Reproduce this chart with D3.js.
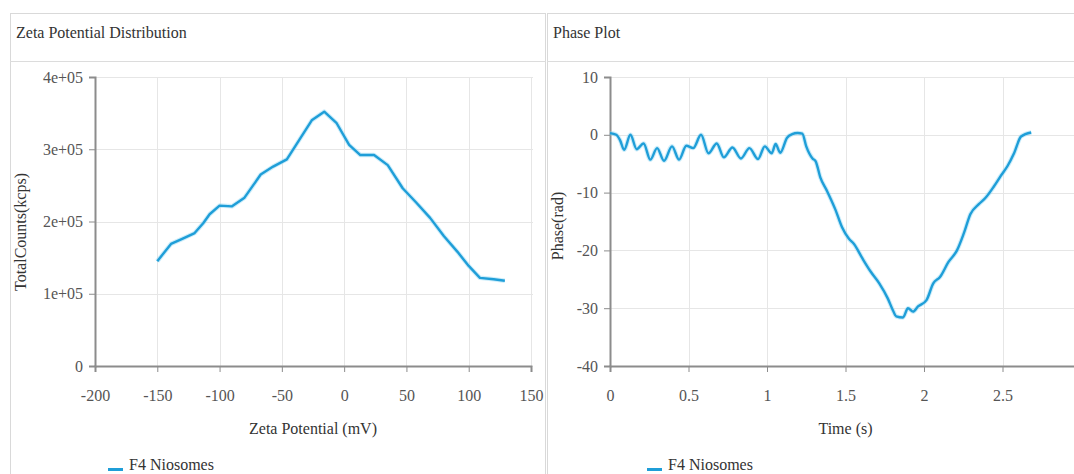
<!DOCTYPE html>
<html>
<head>
<meta charset="utf-8">
<script src="https://cdn.jsdelivr.net/npm/d3@7"></script>
<style>
  html, body { margin: 0; padding: 0; background: #fff; overflow: hidden; }
  svg { display: block; font-family: "Liberation Serif", "Times New Roman", serif; }
</style>
</head>
<body>
<svg id="chart" width="1074" height="474"></svg>
<script>
// Zeta potential distribution (mV vs total counts)
const zetaMv = [-150, -139, -130, -120, -113, -108, -100, -90, -80, -67, -57, -46, -36, -26, -16, -6, 4, 13, 24, 35, 47, 58, 69, 80, 91, 100, 109, 120, 129];
const totalCounts = [145000, 169000, 176000, 184000, 198000, 210000, 222000, 221000, 233000, 265000, 276000, 286000, 313000, 340000, 352000, 336000, 306000, 292000, 292000, 278000, 246000, 226000, 205000, 180000, 158000, 138500, 122000, 120000, 118000];

// Phase plot (time vs phase)
const phaseTime = [0, 0.04, 0.065, 0.09, 0.13, 0.17, 0.214, 0.257, 0.3, 0.344, 0.395, 0.44, 0.486, 0.53, 0.58, 0.627, 0.68, 0.725, 0.78, 0.834, 0.888, 0.943, 0.986, 1.03, 1.055, 1.084, 1.128, 1.16, 1.195, 1.225, 1.25, 1.29, 1.31, 1.34, 1.382, 1.435, 1.478, 1.522, 1.554, 1.608, 1.661, 1.715, 1.769, 1.801, 1.823, 1.866, 1.898, 1.93, 1.962, 2.016, 2.059, 2.102, 2.156, 2.21, 2.253, 2.296, 2.349, 2.392, 2.446, 2.489, 2.532, 2.575, 2.618, 2.683];
const phaseRad = [0.3, 0, -1.0, -2.6, 0, -2.5, -1.5, -4.3, -2.3, -4.5, -2.0, -4.3, -1.9, -2.3, 0, -3.2, -1.5, -3.9, -2.2, -4.1, -2.3, -4.2, -2.0, -3.2, -1.6, -3.1, -0.5, 0.1, 0.3, 0.2, -2.0, -4.1, -4.6, -7.4, -9.7, -12.9, -16, -18, -18.9, -21.4, -23.7, -25.7, -28.3, -30.3, -31.4, -31.6, -30, -30.6, -29.7, -28.6, -25.7, -24.6, -22, -20, -17.1, -13.7, -12, -10.9, -8.9, -7.1, -5.4, -3.1, -0.3, 0.4];

// Axis ticks and labels
const zetaTicks = [-200, -150, -100, -50, 0, 50, 100, 150];
const countTicks = [0, 100000, 200000, 300000, 400000];
const countTickLabels = ["0", "1e+05", "2e+05", "3e+05", "4e+05"];
const timeTicks = [0, 0.5, 1, 1.5, 2, 2.5];
const timeTickLabels = ["0", "0.5", "1", "1.5", "2", "2.5"];
const phaseTicks = [-40, -30, -20, -10, 0, 10];

const seriesName = "F4 Niosomes";
const lineColor = "#1f9ed8";
const FONT = "Liberation Serif, Times New Roman, serif";

const svg = d3.select("#chart");

function panel(p) {
  const g = svg.append("g");
  // frame and header
  g.append("rect").attr("x", p.x0 + 0.5).attr("y", 13.5)
    .attr("width", p.x1 - p.x0).attr("height", 480)
    .attr("fill", "#fff").attr("stroke", "#d9d9d9").attr("stroke-width", 1);
  g.append("line").attr("x1", p.x0).attr("x2", p.x1 + 1).attr("y1", 61.5).attr("y2", 61.5)
    .attr("stroke", "#dcdcdc");
  g.append("text").attr("x", p.x0 + 6).attr("y", 38)
    .attr("font-size", 16).attr("fill", "#333").text(p.title);

  const x = d3.scaleLinear().domain(p.xDomain).range([p.left, p.right]);
  const y = d3.scaleLinear().domain(p.yDomain).range([366, 77]);

  // grid
  const grid = g.append("g").attr("stroke", "#e6e6e6").attr("stroke-width", 1);
  grid.selectAll("line.v").data(p.xTicks).join("line")
    .attr("x1", d => Math.round(x(d)) + 0.5).attr("x2", d => Math.round(x(d)) + 0.5)
    .attr("y1", 77).attr("y2", 366);
  grid.selectAll("line.h").data(p.yTicks).join("line")
    .attr("x1", p.left).attr("x2", p.right + 2)
    .attr("y1", d => Math.round(y(d)) + 0.5).attr("y2", d => Math.round(y(d)) + 0.5);

  // axes
  const xAxis = d3.axisBottom(x).tickValues(p.xTicks)
    .tickFormat((d, i) => p.xLabels[i]).tickSize(6).tickPadding(18);
  const yAxis = d3.axisLeft(y).tickValues(p.yTicks)
    .tickFormat((d, i) => p.yLabels[i]).tickSize(6).tickPadding(6);

  const gx = g.append("g").attr("transform", "translate(0,366)").call(xAxis);
  const gy = g.append("g").attr("transform", `translate(${p.left},0)`).call(yAxis);
  [gx, gy].forEach(a => {
    a.select(".domain").attr("stroke", "#8c8c8c").attr("stroke-width", 2);
    a.selectAll(".tick line").attr("stroke", "#8c8c8c").attr("stroke-width", 1);
    a.selectAll(".tick text").attr("fill", "#555").attr("font-size", 16)
      .attr("font-family", FONT);
  });

  // axis titles
  g.append("text").attr("x", (p.left + p.right) / 2).attr("y", 434)
    .attr("text-anchor", "middle").attr("font-size", 16).attr("fill", "#333").text(p.xTitle);
  g.append("text").attr("transform", `translate(${p.yTitleX},${p.yTitleY}) rotate(-90)`)
    .attr("text-anchor", "middle").attr("font-size", 16).attr("fill", "#333").text(p.yTitle);

  // series line
  const line = d3.line().x(d => x(d[0])).y(d => y(d[1]));
  if (p.curve) line.curve(p.curve);
  const pts = p.xs.map((v, i) => [v, p.ys[i]]);
  g.append("path").datum(pts).attr("d", line)
    .attr("fill", "none").attr("stroke", "#8fd6f5").attr("stroke-width", 4.5)
    .attr("stroke-opacity", 0.45).attr("stroke-linejoin", "round");
  g.append("path").datum(pts).attr("d", line)
    .attr("fill", "none").attr("stroke", lineColor).attr("stroke-width", 2.4)
    .attr("stroke-linejoin", "round");

  // legend
  g.append("line").attr("x1", p.legendX).attr("x2", p.legendX + 15)
    .attr("y1", 469.5).attr("y2", 469.5).attr("stroke", lineColor).attr("stroke-width", 3);
  g.append("text").attr("x", p.legendX + 21).attr("y", 470)
    .attr("font-size", 16).attr("fill", "#333").text(seriesName);
}

panel({
  x0: 10, x1: 545, title: "Zeta Potential Distribution",
  left: 95, right: 531,
  xDomain: [-200, 150], yDomain: [0, 400000],
  xTicks: zetaTicks, xLabels: zetaTicks.map(String),
  yTicks: countTicks, yLabels: countTickLabels,
  xTitle: "Zeta Potential (mV)", yTitle: "TotalCounts(kcps)",
  yTitleX: 26, yTitleY: 232,
  xs: zetaMv, ys: totalCounts, legendX: 108
});

panel({
  x0: 547, x1: 1090, title: "Phase Plot",
  left: 610, right: 1081,
  xDomain: [0, 3], yDomain: [-40, 10],
  xTicks: timeTicks, xLabels: timeTickLabels,
  yTicks: phaseTicks, yLabels: phaseTicks.map(String),
  xTitle: "Time (s)", yTitle: "Phase(rad)",
  yTitleX: 563, yTitleY: 226,
  xs: phaseTime, ys: phaseRad, curve: d3.curveMonotoneX, legendX: 647
});
</script>
</body>
</html>
